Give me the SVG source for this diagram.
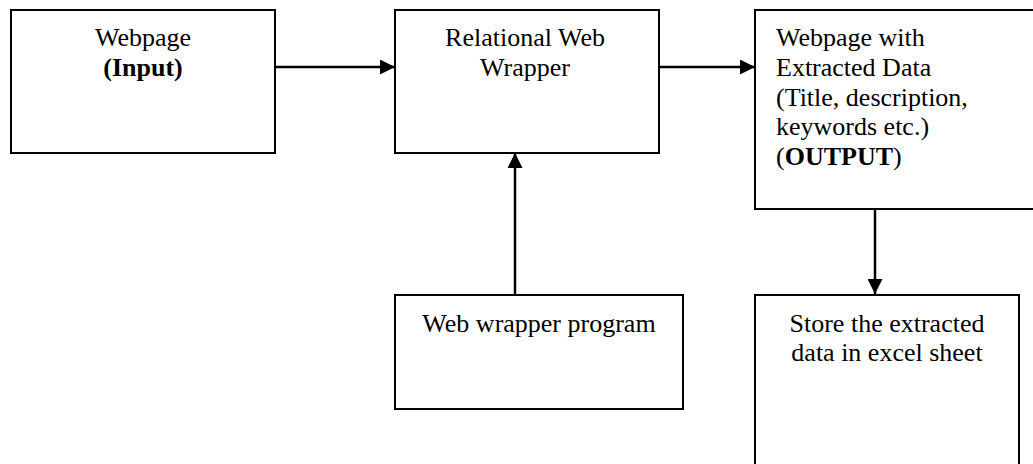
<svg xmlns="http://www.w3.org/2000/svg" width="1033" height="464" viewBox="0 0 1033 464">
<style>
.box{fill:#fff;stroke:#000;stroke-width:2}
.t{font-family:"Liberation Serif","Times New Roman",serif;font-size:26px;fill:#000}
.c{text-anchor:middle}
.b{font-weight:bold}
.edge{stroke:#000;stroke-width:2.5;fill:none}
</style>
<defs>
<marker id="ah" markerUnits="userSpaceOnUse" markerWidth="15" markerHeight="15" refX="15" refY="7.5" orient="auto">
<path d="M0,0 L15,7.5 L0,15 Z" fill="#000"/>
</marker>
</defs>
<rect width="1033" height="464" fill="#fff"/>
<g id="connectors">
<line class="edge" x1="275" y1="67" x2="395" y2="67" marker-end="url(#ah)"/>
<line class="edge" x1="659" y1="67" x2="755" y2="67" marker-end="url(#ah)"/>
<line class="edge" x1="515" y1="295" x2="515" y2="153" marker-end="url(#ah)"/>
<line class="edge" x1="875" y1="209" x2="875" y2="294" marker-end="url(#ah)"/>
</g>
<g id="webpage-input">
<rect class="box" x="11" y="10" width="264" height="143"/>
<text class="t c" x="143" y="46">Webpage</text>
<text class="t c b" x="143" y="76">(Input)</text>
</g>
<g id="relational-web-wrapper">
<rect class="box" x="395" y="10" width="264" height="143"/>
<text class="t c" x="525" y="46">Relational Web</text>
<text class="t c" x="525" y="76">Wrapper</text>
</g>
<g id="webpage-output">
<rect class="box" x="755" y="10" width="290" height="199"/>
<text class="t" x="776" y="46">Webpage with</text>
<text class="t" x="776" y="76">Extracted Data</text>
<text class="t" x="776" y="106">(Title, description,</text>
<text class="t" x="776" y="135">keywords etc.)</text>
<text class="t" x="776" y="165">(<tspan class="b">OUTPUT</tspan>)</text>
</g>
<g id="web-wrapper-program">
<rect class="box" x="395" y="295" width="288" height="114"/>
<text class="t c" x="539" y="332">Web wrapper program</text>
</g>
<g id="store-excel">
<rect class="box" x="755" y="295" width="264" height="190"/>
<text class="t c" x="887" y="332">Store the extracted</text>
<text class="t c" x="887" y="361">data in excel sheet</text>
</g>
</svg>
